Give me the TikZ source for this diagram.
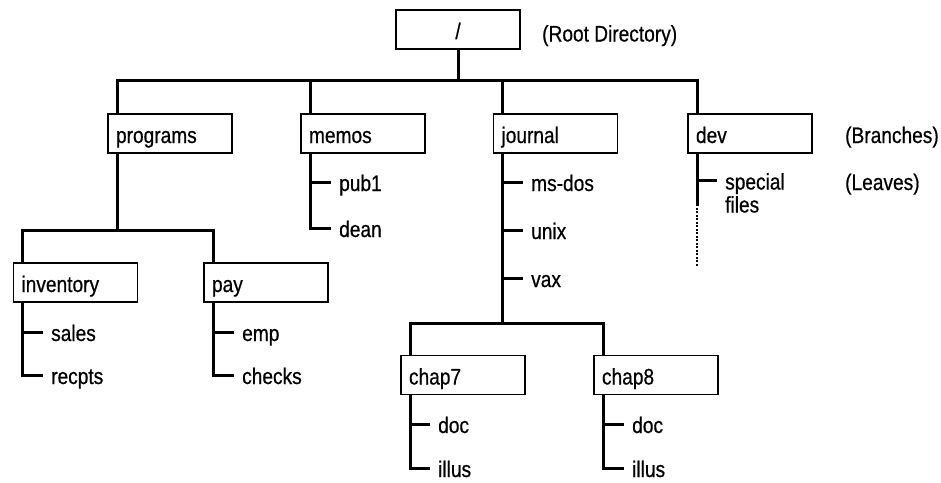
\documentclass[tikz,border=0pt]{standalone}
\usepackage{fontspec}
\setmainfont[FakeStretch=0.85, FakeBold=0.6]{Liberation Sans}
\tikzset{
  dirbox/.style={draw, line width=1.6pt, minimum height=39pt, text width=108pt,
    inner xsep=8pt, align=left, text height=19pt, text depth=0pt},
  leaf/.style={anchor=west, inner xsep=8pt, inner ysep=0pt, text height=18pt, text depth=0pt},
  note/.style={anchor=west, inner sep=0pt, text height=19pt, text depth=0pt},
  link/.style={line width=3pt},
  dotline/.style={line width=2.4pt, dash pattern=on 2pt off 1.5pt}
}

\begin{document}
\begin{tikzpicture}[x=1pt, y=-1pt, font=\fontsize{22.5}{23}\selectfont]
    \useasboundingbox (0,0) rectangle (941,482);

    % directories
    \node[dirbox, align=center] (root) at (458,29.5) {/};
    \node[dirbox] (programs) at (170,133.5) {programs};
    \node[dirbox] (memos) at (363,133.5) {memos};
    \node[dirbox] (journal) at (555.5,133.5) {journal};
    \node[dirbox] (dev) at (750,133.5) {dev};
    \node[dirbox] (inventory) at (75.5,282.5) {inventory};
    \node[dirbox] (pay) at (266,282.5) {pay};
    \node[dirbox] (chap7) at (463,375) {chap7};
    \node[dirbox] (chap8) at (656,375) {chap8};

    % notes on the right
    \node[note] (rootnote) at (542,32) {(Root Directory)};
    \node[note] (branchnote) at (845,133.5) {(Branches)};
    \node[note] (leafnote) at (845,180.5) {(Leaves)};

    % files
    \node[leaf] (pub1) at (331,182) {pub1};
    \node[leaf] (dean) at (331,228) {dean};
    \node[leaf] (msdos) at (523,182) {ms-dos};
    \node[leaf] (unix) at (523,230) {unix};
    \node[leaf] (vax) at (523,278) {vax};
    \node[leaf] (special) at (717,180.5) {\parbox[t]{4em}{special\\files}};
    \node[leaf] (sales) at (43,332) {sales};
    \node[leaf] (recpts) at (43,375) {recpts};
    \node[leaf] (emp) at (234,332) {emp};
    \node[leaf] (checks) at (234,375) {checks};
    \node[leaf] (doc7) at (430,424) {doc};
    \node[leaf] (illus7) at (430,468) {illus};
    \node[leaf] (doc8) at (624,424) {doc};
    \node[leaf] (illus8) at (624,468) {illus};

    % branches
    \coordinate (bar0) at (458,80);
    \draw[link] (root.south) -- (bar0);
    \foreach \d in {programs,memos,journal,dev}
        \draw[link] ([xshift=10pt]\d.north west) |- (bar0);

    \draw[link] ([xshift=10pt]programs.south west) -- ++(0,77) coordinate (bar1);
    \foreach \d in {inventory,pay}
        \draw[link] ([xshift=10pt]\d.north west) |- (bar1);

    \draw[link] ([xshift=10pt]journal.south west) -- ++(0,170) coordinate (bar2);
    \foreach \d in {chap7,chap8}
        \draw[link] ([xshift=10pt]\d.north west) |- (bar2);

    % leaves
    \foreach \p/\l in {memos/pub1, memos/dean, journal/msdos, journal/unix, journal/vax,
        dev/special, inventory/sales, inventory/recpts, pay/emp, pay/checks,
        chap7/doc7, chap7/illus7, chap8/doc8, chap8/illus8}
        \draw[link] ([xshift=10pt]\p.south west) |- (\l.west);

    % more special files
    \draw[link] ([xshift=10pt]dev.south west) -- ++(0,52) coordinate (devend);
    \draw[dotline] ([yshift=-2pt]devend) -- ++(0,58);
\end{tikzpicture}
\end{document}
